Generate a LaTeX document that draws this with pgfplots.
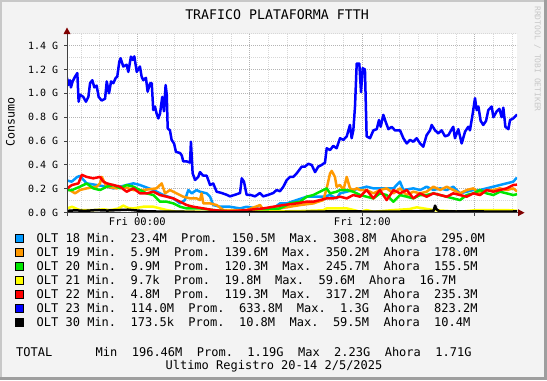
\documentclass[border=0pt]{standalone}
\usepackage{pgfplots}
\pgfplotsset{compat=1.18}
\usepackage{fontspec}
\setmainfont{DejaVu Sans Mono}
\definecolor{cbg}{RGB}{243,243,243}
\definecolor{c18}{RGB}{0,153,255}
\definecolor{c19}{RGB}{255,153,0}
\definecolor{c20}{RGB}{0,230,0}
\definecolor{c21}{RGB}{255,255,0}
\definecolor{c22}{RGB}{255,0,0}
\definecolor{c23}{RGB}{0,0,255}
\definecolor{c30}{RGB}{0,0,0}
\definecolor{gmin}{RGB}{215,215,215}
\definecolor{gmaj}{RGB}{180,180,180}
\definecolor{arr}{RGB}{128,0,0}
\definecolor{frameD}{RGB}{158,158,158}
\definecolor{frameL}{RGB}{200,200,200}
\definecolor{wm}{RGB}{200,200,200}
\newcommand{\legfont}{\fontsize{12.05}{14}\selectfont}
\begin{document}
\begin{tikzpicture}[x=1bp,y=1bp]
\path[use as bounding box] (0,0) rectangle (547,380);
\fill[cbg] (0,0) rectangle (547,380);
\fill[frameL] (0,0) rectangle (2,380);
\fill[frameL] (0,378) rectangle (547,380);
\fill[frameD] (544,0) rectangle (547,380);
\fill[frameD] (0,0) rectangle (547,3);
\begin{axis}[
  at={(67bp,167.3bp)}, anchor=south west,
  scale only axis, width=450bp, height=179bp,
  xmin=-3.75, xmax=20.25, ymin=0, ymax=1.5,
  axis line style={draw=none},
  axis background/.style={fill=white},
  xtick={0,6,12,18}, xticklabels={Fri 00:00,,Fri 12:00,},
  minor xtick={-3,-2,-1,1,2,3,4,5,7,8,9,10,11,13,14,15,16,17,19,20},
  ytick={0,0.2,0.4,0.6,0.8,1.0,1.2,1.4},
  yticklabels={0.0 G,0.2 G,0.4 G,0.6 G,0.8 G,1.0 G,1.2 G,1.4 G},
  minor ytick={0.1,0.3,0.5,0.7,0.9,1.1,1.3,1.5},
  grid=both,
  minor grid style={gmin, dash pattern=on 1bp off 1bp, line width=1bp},
  major grid style={gmaj, dash pattern=on 1bp off 1bp, line width=1bp},
  major tick length=0pt, minor tick length=0pt,
  xticklabel style={font=\fontsize{10.5}{12}\selectfont, anchor=base, inner sep=0pt, yshift=-13bp},
  yticklabel style={font=\fontsize{10}{12}\selectfont, anchor=east, inner sep=0pt, xshift=-8.7bp},
  every axis plot/.append style={line width=2.5bp, line join=round, no markers},
]
\addplot[c18] coordinates {(-3.75,0.27) (-3.50,0.26) (-3.20,0.30) (-3.06,0.308) (-2.70,0.246) (-2.17,0.232) (-1.63,0.218) (-1.28,0.204) (-0.57,0.232) (-0.21,0.246) (0.14,0.232) (0.86,0.19) (1.39,0.148) (1.92,0.12) (2.28,0.078) (2.54,0.106) (2.72,0.19) (2.90,0.162) (3.16,0.19) (3.34,0.176) (3.70,0.162) (3.88,0.134) (4.05,0.064) (4.41,0.05) (4.94,0.05) (5.48,0.036) (5.83,0.05) (6.37,0.036) (6.72,0.023) (7.25,0.036) (7.61,0.078) (7.97,0.078) (8.50,0.106) (9.03,0.134) (9.39,0.134) (9.92,0.134) (10.28,0.148) (10.63,0.12) (10.81,0.162) (11.17,0.176) (11.52,0.19) (11.88,0.204) (12.23,0.218) (12.59,0.204) (12.94,0.204) (13.66,0.204) (14.01,0.26) (14.19,0.19) (14.72,0.204) (15.08,0.19) (15.43,0.218) (15.79,0.19) (16.15,0.204) (16.50,0.19) (16.85,0.218) (17.21,0.162) (17.57,0.176) (17.92,0.19) (18.28,0.19) (18.63,0.204) (18.99,0.218) (19.34,0.232) (19.70,0.246) (20.05,0.26) (20.25,0.295)};
\addplot[c19] coordinates {(-3.75,0.204) (-3.32,0.162) (-3.06,0.19) (-2.70,0.204) (-2.17,0.218) (-1.99,0.246) (-1.90,0.30) (-1.63,0.218) (-1.10,0.204) (-0.75,0.218) (-0.21,0.19) (0.32,0.19) (1.03,0.204) (1.30,0.246) (1.48,0.162) (1.74,0.19) (2.10,0.162) (2.45,0.134) (2.81,0.12) (3.16,0.12) (3.34,0.106) (3.43,0.162) (3.52,0.078) (3.88,0.078) (4.23,0.064) (4.59,0.022) (4.94,0.022) (5.83,0.022) (6.55,0.064) (6.72,0.022) (7.61,0.036) (8.14,0.05) (8.68,0.064) (9.39,0.078) (9.92,0.106) (10.10,0.204) (10.28,0.33) (10.37,0.35) (10.54,0.30) (10.63,0.218) (10.81,0.232) (10.99,0.19) (11.17,0.30) (11.34,0.204) (11.52,0.19) (11.70,0.204) (11.88,0.19) (12.23,0.19) (12.59,0.162) (12.94,0.19) (13.30,0.204) (13.66,0.162) (14.01,0.204) (14.37,0.148) (14.72,0.176) (15.08,0.162) (15.43,0.176) (15.79,0.218) (16.15,0.19) (16.50,0.218) (16.85,0.19) (17.21,0.162) (17.57,0.19) (17.92,0.204) (18.28,0.162) (18.63,0.19) (18.99,0.19) (19.34,0.204) (19.70,0.19) (20.05,0.204) (20.25,0.178)};
\addplot[c20] coordinates {(-3.75,0.19) (-3.48,0.19) (-3.06,0.218) (-2.70,0.245) (-2.35,0.204) (-1.99,0.19) (-1.63,0.218) (-1.28,0.232) (-0.92,0.204) (-0.57,0.232) (-0.21,0.218) (0.14,0.19) (0.50,0.162) (0.86,0.148) (1.21,0.092) (1.57,0.092) (1.92,0.078) (2.28,0.05) (2.63,0.036) (2.98,0.036) (3.34,0.036) (4.05,0.022) (4.94,0.01) (5.83,0.01) (6.72,0.022) (7.61,0.036) (8.14,0.078) (8.68,0.092) (9.03,0.134) (9.39,0.148) (9.92,0.19) (10.10,0.204) (10.28,0.162) (10.63,0.176) (10.81,0.19) (11.17,0.19) (11.52,0.176) (11.88,0.148) (12.23,0.134) (12.59,0.12) (12.94,0.162) (13.30,0.148) (13.66,0.092) (14.01,0.148) (14.37,0.134) (14.72,0.12) (15.08,0.148) (15.43,0.148) (15.79,0.162) (16.15,0.148) (16.50,0.134) (16.85,0.12) (17.21,0.106) (17.57,0.148) (17.92,0.162) (18.28,0.19) (18.63,0.162) (18.99,0.148) (19.34,0.176) (19.70,0.162) (20.05,0.148) (20.25,0.155)};
\addplot[c21] coordinates {(-3.75,0.036) (-3.48,0.05) (-3.2,0.03) (-3.06,0.022) (-2.35,0.022) (-1.8,0.028) (-1.46,0.022) (-1.0,0.035) (-0.75,0.0596) (-0.5,0.04) (-0.21,0.036) (0.32,0.05) (0.86,0.05) (1.21,0.036) (1.57,0.022) (2.10,0.008) (2.63,0.008) (3.34,0.008) (4.5,0.006) (6.0,0.008) (7.0,0.01) (8.0,0.012) (9.0,0.015) (9.9,0.02) (10.10,0.036) (10.8,0.036) (11.17,0.036) (11.6,0.02) (11.88,0.008) (12.23,0.022) (12.59,0.008) (13.66,0.022) (14.5,0.03) (14.90,0.045) (15.3,0.035) (15.79,0.022) (16.5,0.015) (17.21,0.008) (18.10,0.022) (18.99,0.022) (19.70,0.022) (20.25,0.0167)};
\addplot[c22] coordinates {(-3.75,0.204) (-3.48,0.232) (-3.14,0.246) (-2.96,0.317) (-2.70,0.30) (-2.35,0.288) (-1.99,0.30) (-1.81,0.26) (-1.63,0.246) (-1.28,0.232) (-0.92,0.218) (-0.57,0.176) (-0.21,0.204) (0.14,0.162) (0.50,0.162) (0.86,0.176) (1.21,0.148) (1.57,0.134) (1.92,0.12) (2.28,0.092) (2.63,0.064) (2.98,0.05) (3.52,0.036) (4.05,0.022) (4.94,0.01) (5.83,0.022) (6.72,0.036) (7.25,0.05) (7.79,0.064) (8.50,0.078) (9.03,0.092) (9.39,0.092) (9.74,0.106) (10.10,0.12) (10.45,0.12) (10.81,0.134) (11.17,0.12) (11.52,0.148) (11.88,0.134) (12.23,0.19) (12.59,0.12) (12.94,0.19) (13.30,0.106) (13.66,0.19) (14.01,0.162) (14.37,0.19) (14.72,0.12) (15.08,0.162) (15.43,0.134) (15.79,0.162) (16.15,0.148) (16.50,0.134) (16.85,0.162) (17.21,0.148) (17.57,0.134) (17.92,0.162) (18.28,0.148) (18.63,0.19) (18.99,0.176) (19.34,0.19) (19.70,0.204) (20.05,0.232) (20.25,0.235)};
\addplot[c23] coordinates {(-3.75,1.13) (-3.68,1.07) (-3.59,1.11) (-3.54,1.05) (-3.45,1.10) (-3.32,1.14) (-3.20,1.17) (-3.13,0.93) (-3.06,0.99) (-2.88,0.97) (-2.74,0.93) (-2.61,0.97) (-2.52,1.085) (-2.40,1.11) (-2.29,1.05) (-2.17,1.065) (-2.06,0.97) (-1.90,0.94) (-1.72,0.955) (-1.63,1.10) (-1.51,1.00) (-1.40,1.10) (-1.28,1.085) (-1.15,1.13) (-1.07,1.14) (-0.96,1.266) (-0.89,1.294) (-0.75,1.225) (-0.57,1.24) (-0.48,1.18) (-0.34,1.308) (-0.25,1.28) (-0.16,1.31) (-0.03,1.18) (0.14,1.225) (0.23,1.14) (0.32,1.11) (0.46,1.13) (0.55,1.014) (0.68,1.085) (0.77,1.085) (0.85,0.86) (0.94,0.89) (1.03,0.83) (1.12,0.79) (1.21,0.83) (1.33,0.97) (1.42,0.85) (1.51,1.07) (1.57,0.99) (1.62,0.707) (1.74,0.69) (1.83,0.61) (1.96,0.58) (2.06,0.51) (2.28,0.50) (2.37,0.48) (2.45,0.43) (2.63,0.43) (2.81,0.42) (2.86,0.595) (2.95,0.33) (3.08,0.274) (3.25,0.30) (3.34,0.34) (3.52,0.31) (3.70,0.31) (3.88,0.232) (4.05,0.245) (4.23,0.176) (4.50,0.165) (4.77,0.15) (4.94,0.137) (5.21,0.15) (5.48,0.165) (5.57,0.288) (5.69,0.26) (5.83,0.15) (6.01,0.15) (6.28,0.137) (6.54,0.165) (6.72,0.137) (6.99,0.15) (7.25,0.165) (7.43,0.19) (7.61,0.18) (7.79,0.218) (7.97,0.274) (8.14,0.30) (8.32,0.30) (8.50,0.33) (8.77,0.386) (8.94,0.386) (9.12,0.41) (9.30,0.40) (9.48,0.34) (9.65,0.386) (9.83,0.40) (10.01,0.42) (10.10,0.54) (10.28,0.525) (10.45,0.56) (10.63,0.54) (10.81,0.624) (10.99,0.61) (11.17,0.64) (11.34,0.735) (11.43,0.624) (11.52,0.69) (11.61,0.89) (11.70,1.25) (11.84,1.25) (11.93,1.01) (12.02,1.21) (12.14,1.20) (12.23,0.64) (12.41,0.624) (12.59,0.69) (12.77,0.70) (12.89,0.777) (12.98,0.72) (13.12,0.82) (13.21,0.777) (13.39,0.70) (13.57,0.72) (13.74,0.69) (14.01,0.69) (14.19,0.624) (14.37,0.58) (14.54,0.61) (14.72,0.595) (14.90,0.624) (15.08,0.58) (15.25,0.553) (15.43,0.65) (15.61,0.69) (15.70,0.735) (15.88,0.69) (16.05,0.665) (16.23,0.69) (16.41,0.64) (16.59,0.65) (16.77,0.70) (16.85,0.72) (16.94,0.624) (17.12,0.70) (17.30,0.58) (17.48,0.68) (17.65,0.72) (17.74,0.69) (17.89,0.833) (18.01,0.96) (18.10,0.86) (18.19,0.89) (18.31,0.77) (18.45,0.735) (18.60,0.77) (18.72,0.86) (18.90,0.89) (18.99,0.80) (19.17,0.85) (19.31,0.87) (19.43,0.80) (19.52,0.88) (19.63,0.72) (19.79,0.70) (19.88,0.777) (20.05,0.79) (20.25,0.823)};
\addplot[c30] coordinates {(-3.75,0.015) (-3.3,0.02) (-2.8,0.015) (-2.2,0.022) (-1.6,0.018) (-1.0,0.022) (-0.5,0.025) (0,0.018) (0.5,0.012) (1.0,0.01) (1.5,0.008) (2.0,0.01) (3.0,0.006) (4.0,0.004) (5.0,0.004) (6.0,0.006) (7.0,0.005) (8.0,0.006) (9.0,0.008) (10.0,0.01) (11.0,0.012) (12.0,0.01) (13.0,0.008) (14.0,0.01) (15.0,0.012) (15.8,0.015) (15.88,0.0595) (15.95,0.03) (16.1,0.012) (17.0,0.01) (18.0,0.012) (19.0,0.008) (20.0,0.01) (20.25,0.0104)};
\end{axis}
% axes, ticks and arrows
\draw[black!75, line width=1bp] (64,167.3) -- (519,167.3);
\draw[black!75, line width=1bp] (67,164) -- (67,347);
\foreach \px in {137.3,249.8,362.3,474.8} \draw[black!75, line width=1bp] (\px,167.3) -- (\px,164.3);
\foreach \py in {167.3,191.2,215.1,238.9,262.8,286.7,310.6,334.4} \draw[black!75, line width=1bp] (67,\py) -- (64,\py);
\fill[arr] (518,170.8) -- (518,163.8) -- (524.5,167.3) -- cycle;
\fill[arr] (63.5,346) -- (70.5,346) -- (67,352.5) -- cycle;
% texts
\node[anchor=base, inner sep=0pt, font=\fontsize{13.3}{15}\selectfont] at (277,360.8) {TRAFICO PLATAFORMA FTTH};
\node[rotate=90, inner sep=0pt, font=\fontsize{11.6}{13}\selectfont] at (10.5,258) {Consumo};
\node[rotate=-90, inner sep=0pt, text=wm, font=\fontsize{8}{9}\selectfont] at (537.5,321) {RRDTOOL / TOBI OETIKER};
% legend
\foreach \c/\yb in {c18/137.7,c19/123.7,c20/109.7,c21/95.7,c22/81.7,c23/67.7,c30/53.7} {
  \filldraw[fill=\c, draw=black, line width=1bp] (15.5,\yb-0.5) rectangle (23.5,\yb+7.5);
}
\node[anchor=base west, inner sep=0pt, font=\legfont] at (36.5,137.7) {OLT 18 Min.~~23.4M~~Prom.~~150.5M~~Max.~~308.8M~~Ahora~~295.0M};
\node[anchor=base west, inner sep=0pt, font=\legfont] at (36.5,123.7) {OLT 19 Min.~~5.9M~~Prom.~~139.6M~~Max.~~350.2M~~Ahora~~178.0M};
\node[anchor=base west, inner sep=0pt, font=\legfont] at (36.5,109.7) {OLT 20 Min.~~9.9M~~Prom.~~120.3M~~Max.~~245.7M~~Ahora~~155.5M};
\node[anchor=base west, inner sep=0pt, font=\legfont] at (36.5,95.7) {OLT 21 Min.~~9.7k~~Prom.~~19.8M~~Max.~~59.6M~~Ahora~~16.7M};
\node[anchor=base west, inner sep=0pt, font=\legfont] at (36.5,81.7) {OLT 22 Min.~~4.8M~~Prom.~~119.3M~~Max.~~317.2M~~Ahora~~235.3M};
\node[anchor=base west, inner sep=0pt, font=\legfont] at (36.5,67.7) {OLT 23 Min.~~114.0M~~Prom.~~633.8M~~Max.~~1.3G~~Ahora~~823.2M};
\node[anchor=base west, inner sep=0pt, font=\legfont] at (36.5,53.7) {OLT 30 Min.~~173.5k~~Prom.~~10.8M~~Max.~~59.5M~~Ahora~~10.4M};
\node[anchor=base west, inner sep=0pt, font=\legfont] at (16,24) {TOTAL~~~~~~Min~~196.46M~~Prom.~~1.19G~~Max~~2.23G~~Ahora~~1.71G};
\node[anchor=base, inner sep=0pt, font=\legfont] at (274,10.5) {Ultimo Registro 20-14 2/5/2025};
\end{tikzpicture}
\end{document}
